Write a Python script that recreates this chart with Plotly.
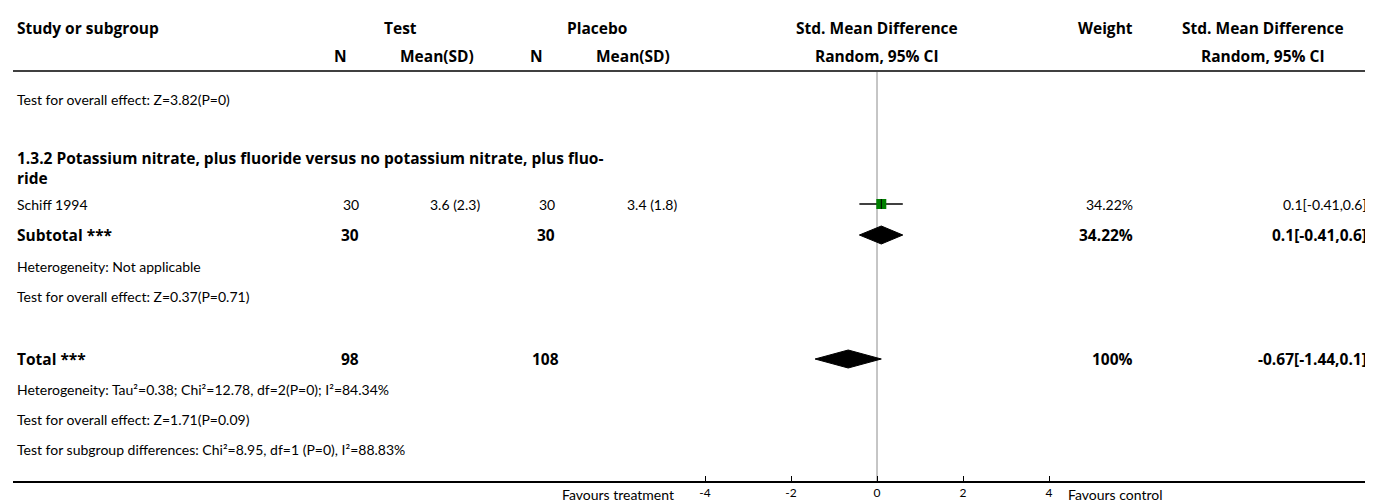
import plotly.graph_objects as go

# ---------------- data ----------------
study_names = ["Schiff 1994"]
test_n = [30]
test_mean_sd = ["3.6 (2.3)"]
placebo_n = [30]
placebo_mean_sd = ["3.4 (1.8)"]
study_smd = [0.1]
study_lo = [-0.41]
study_hi = [0.6]
study_weight = ["34.22%"]

subtotal_n = [30, 30]
subtotal_smd = [0.1]
subtotal_lo = [-0.41]
subtotal_hi = [0.6]
subtotal_weight = ["34.22%"]

total_n = [98, 108]
total_smd = [-0.67]
total_lo = [-1.44]
total_hi = [0.1]
total_weight = ["100%"]

tick_vals = [-4, -2, 0, 2, 4]
tick_text = ["-4", "-2", "0", "2", "4"]

# ---------------- layout helpers ----------------
W, H = 1373, 502
AX_Y = 473          # pixel row of the bottom axis line
L, R = 5, 5
ZERO_PX, PX_PER_UNIT = 869, 43.0
FONT = "Lato"
BFONT = "Open Sans"
FS = 14
BFS = 15.5

def xp(px):
    return (px - L) / (W - L - R)

def yp(py):
    return (AX_Y - py) / AX_Y

rows = {
    "test1": 92, "subhead": 160, "schiff": 196, "subtotal": 227,
    "het1": 258, "test2": 288, "total": 351, "het2": 381, "test3": 411, "subgrp": 441,
}

fig = go.Figure()

# zero line
fig.add_trace(go.Scatter(x=[0, 0], y=[64, AX_Y], mode="lines",
                         line=dict(color="#8c8c8c", width=1), hoverinfo="skip"))

# study CI + square
for i in range(len(study_names)):
    y = rows["schiff"]
    fig.add_trace(go.Scatter(x=[study_lo[i], study_hi[i]], y=[y, y], mode="lines",
                             line=dict(color="black", width=1.5), hoverinfo="skip"))
    fig.add_trace(go.Scatter(x=[study_smd[i]], y=[y], mode="markers",
                             marker=dict(symbol="square", size=10, color="#008000",
                                         line=dict(width=0)), hoverinfo="skip"))
    fig.add_trace(go.Scatter(x=[study_smd[i], study_smd[i]], y=[y - 5, y + 5], mode="lines",
                             line=dict(color="black", width=1), hoverinfo="skip"))

def diamond(c, lo, hi, y, h=9):
    fig.add_trace(go.Scatter(x=[lo, c, hi, c, lo], y=[y, y - h, y, y + h, y],
                             mode="lines", fill="toself", fillcolor="black",
                             line=dict(color="black", width=1), hoverinfo="skip"))

diamond(subtotal_smd[0], subtotal_lo[0], subtotal_hi[0], rows["subtotal"])
diamond(total_smd[0], total_lo[0], total_hi[0], rows["total"])

ann = []

def txt(s, xpix, ypix, anchor="left", bold=False, size=None):
    ann.append(dict(text=("<b>%s</b>" % s) if bold else s, x=xp(xpix), y=yp(ypix),
                    xref="paper", yref="paper", xanchor=anchor, yanchor="middle",
                    showarrow=False, align=anchor,
                    font=dict(family=BFONT if bold else FONT,
                              size=size if size else (BFS if bold else FS),
                              color="black")))

# headers
txt("Study or subgroup", 7, 20, bold=True)
txt("Test", 392, 20, "center", True)
txt("Placebo", 589, 20, "center", True)
txt("Std. Mean Difference", 869, 20, "center", True)
txt("Weight", 1097, 20, "center", True)
txt("Std. Mean Difference", 1255, 20, "center", True)
txt("N", 332, 48, "center", True)
txt("Mean(SD)", 429, 48, "center", True)
txt("N", 528, 48, "center", True)
txt("Mean(SD)", 625, 48, "center", True)
txt("Random, 95% CI", 869, 48, "center", True)
txt("Random, 95% CI", 1255, 48, "center", True)

# body
txt("Test for overall effect: Z=3.82(P=0)", 7, rows["test1"])
txt("1.3.2 Potassium nitrate, plus fluoride versus no potassium nitrate, plus fluo-<br>ride",
    7, rows["subhead"], bold=True)
for i in range(len(study_names)):
    y = rows["schiff"]
    txt(study_names[i], 7, y)
    txt(str(test_n[i]), 353, y, "right")
    txt(test_mean_sd[i], 474, y, "right")
    txt(str(placebo_n[i]), 549, y, "right")
    txt(placebo_mean_sd[i], 671, y, "right")
    txt(study_weight[i], 1127, y, "right")
    txt("%g[%g,%g]" % (study_smd[i], study_lo[i], study_hi[i]), 1361, y, "right")

y = rows["subtotal"]
txt("Subtotal ***", 7, y, bold=True)
txt(str(subtotal_n[0]), 353, y, "right", True)
txt(str(subtotal_n[1]), 549, y, "right", True)
txt(subtotal_weight[0], 1127, y, "right", True)
txt("%g[%g,%g]" % (subtotal_smd[0], subtotal_lo[0], subtotal_hi[0]), 1361, y, "right", True)
txt("Heterogeneity: Not applicable", 7, rows["het1"])
txt("Test for overall effect: Z=0.37(P=0.71)", 7, rows["test2"])

y = rows["total"]
txt("Total ***", 7, y, bold=True)
txt(str(total_n[0]), 353, y, "right", True)
txt(str(total_n[1]), 553, y, "right", True)
txt(total_weight[0], 1127, y, "right", True)
txt("%g[%g,%g]" % (total_smd[0], total_lo[0], total_hi[0]), 1361, y, "right", True)
txt("Heterogeneity: Tau²=0.38; Chi²=12.78, df=2(P=0); I²=84.34%", 7, rows["het2"])
txt("Test for overall effect: Z=1.71(P=0.09)", 7, rows["test3"])
txt("Test for subgroup differences: Chi²=8.95, df=1 (P=0), I²=88.83%", 7, rows["subgrp"])

txt("Favours treatment", 668, 487, "right")
txt("Favours control", 1058, 487, "left")

xmin = (L - ZERO_PX) / PX_PER_UNIT
xmax = (W - R - ZERO_PX) / PX_PER_UNIT

fig.update_layout(
    width=W, height=H, margin=dict(l=L, r=R, t=0, b=H - AX_Y),
    paper_bgcolor="white", plot_bgcolor="white", showlegend=False,
    annotations=ann,
    shapes=[dict(type="line", xref="paper", yref="y", x0=0, x1=1, y0=63, y1=63,
                 line=dict(color="black", width=1.5))],
    xaxis=dict(range=[xmin, xmax], tickvals=tick_vals, ticktext=tick_text,
               showgrid=False, zeroline=False, showline=True, linecolor="black",
               linewidth=1.5, ticks="inside", ticklen=5, tickcolor="black",
               tickfont=dict(family=FONT, size=12, color="black"), fixedrange=True),
    yaxis=dict(range=[AX_Y, 0], visible=False, showgrid=False, zeroline=False,
               fixedrange=True),
)

fig.write_html("out.html")
